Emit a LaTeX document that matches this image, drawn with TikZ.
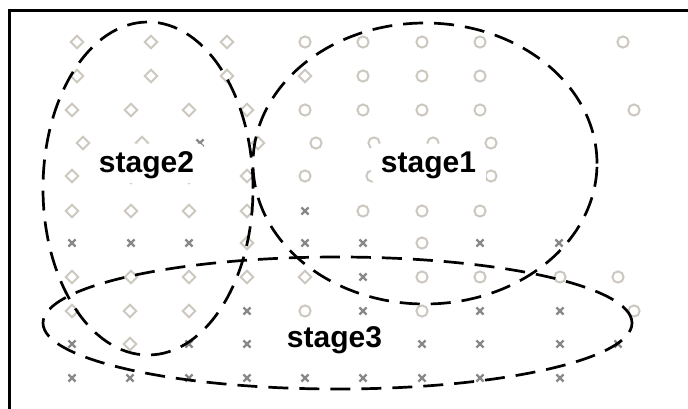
\documentclass[tikz,border=0pt]{standalone}
\usepackage{fontspec}
\setmainfont{Liberation Sans}
\definecolor{softgray}{RGB}{204,200,192}
\definecolor{crossgray}{RGB}{136,136,136}
% marker shapes: diamond, ring, cross
\newcommand\dmk[2]{\draw[lightmark] (#1,#2-6.3) -- (#1+6.3,#2) -- (#1,#2+6.3) -- (#1-6.3,#2) -- cycle;}
\newcommand\cmk[2]{\draw[lightmark] (#1,#2) circle[radius=5.6pt];}
\newcommand\xmk[2]{\draw[crossmark] (#1-3.6,#2-3.6) -- (#1+3.6,#2+3.6) (#1-3.6,#2+3.6) -- (#1+3.6,#2-3.6);}
\begin{document}
\begin{tikzpicture}[x=1pt,y=-1pt,
  lightmark/.style={draw=softgray, line width=2pt},
  crossmark/.style={draw=crossgray, line width=2.3pt},
  region/.style={draw=black, line width=2.7pt, dash pattern=on 20pt off 11pt},
  stagelabel/.style={fill=white, rounded corners=6pt, inner xsep=10pt, inner ysep=4pt,
    text height=25pt, text depth=6.5pt, anchor=base,
    font=\fontsize{30}{32}\selectfont\bfseries}]
\useasboundingbox (0,0) rectangle (688,408);
\clip (0,0) rectangle (688,408);
% frame
\draw[line width=3pt] (9,10) rectangle (720,440);
% diamonds
\foreach \x/\y in {77/42,151/42,227/42,77/76,151/76,227/76,305/76,
  72/110,131/110,189/110,247/110,83/143,142/143,258/143,
  72/176,131/177,189/177,247/176,72/211,131/211,189/211,247/211,247/243,
  72/277,131/277,189/277,247/277,305/277,72/311,130/311,189/311,130/344}
  {\dmk{\x}{\y}}
% rings
\foreach \x/\y in {305/42,363/42,422/42,480/42,623/42,363/76,422/76,480/76,
  305/110,363/110,422/110,480/110,634/110,316/143,374/143,433/143,491/143,
  305/176,372/176,491/176,363/211,422/211,480/211,422/243,
  422/277,480/277,560/277,618/277,305/311,422/311,634/311}
  {\cmk{\x}{\y}}
% crosses
\foreach \x/\y in {200/143,305/211,72/243,131/243,189/243,305/243,363/243,480/243,559/243,
  363/277,247/311,363/311,480/311,560/311,
  72/344,189/344,247/344,422/344,480/344,560/344,618/344,
  72/378,130/378,189/378,247/378,305/378,363/378,422/378,480/378,560/378}
  {\xmk{\x}{\y}}
% stage regions
\draw[region] (148,188.5) ellipse[x radius=105pt, y radius=166.5pt];
\draw[region] (425,163.5) ellipse[x radius=172pt, y radius=140.5pt];
\draw[region] (337.5,323) ellipse[x radius=294.5pt, y radius=66pt];
% labels
\node[stagelabel] (s2) at (146.5,172.5) {stage2};
\node[stagelabel] (s1) at (428.5,172.5) {stage1};
\node[stagelabel] (s3) at (334.5,347) {stage3};
\end{tikzpicture}
\end{document}
